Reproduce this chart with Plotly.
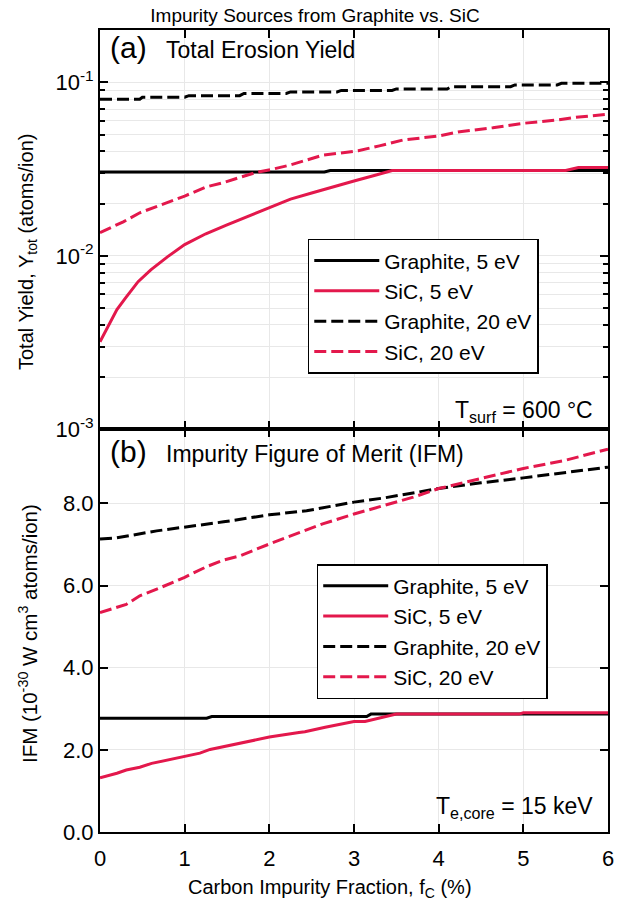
import plotly.graph_objects as go
from plotly.subplots import make_subplots

# ---------------- data ----------------
# (a) total erosion yield (atoms/ion)
graphite5_yield_x = [0, 2.65, 2.72, 6]
graphite5_yield_y = [0.0304, 0.0304, 0.0310, 0.0310]

sic5_yield_x = [0, 0.1, 0.2, 0.3, 0.45, 0.6, 0.8, 1.0, 1.25, 1.5, 1.75, 2.0, 2.25,
                2.5, 2.75, 3.0, 3.25, 3.45, 5.5, 5.65, 6]
sic5_yield_y = [0.0032, 0.0040, 0.0049, 0.0057, 0.0071, 0.0083, 0.0099, 0.0116, 0.0134,
                0.0151, 0.0169, 0.0190, 0.0212, 0.0230, 0.0250, 0.0270, 0.0291, 0.0310,
                0.0310, 0.0323, 0.0323]

graphite20_yield_x = [0, 0.47, 0.5, 1.0, 1.05, 1.65, 1.7, 2.2, 2.25, 2.8, 2.85, 3.45,
                      3.5, 4.1, 4.15, 4.85, 4.9, 5.4, 5.45, 6]
graphite20_yield_y = [0.0798, 0.0798, 0.0820, 0.0820, 0.0837, 0.0837, 0.0862, 0.0862,
                      0.0880, 0.0880, 0.0897, 0.0897, 0.0915, 0.0915, 0.0943, 0.0943,
                      0.0965, 0.0965, 0.0987, 0.0987]

sic20_yield_x = [0, 0.275, 0.47, 0.67, 1.0, 1.26, 1.46, 1.65, 1.85, 2.03, 2.24, 2.63,
                 3.05, 3.3, 3.58, 4.0, 4.25, 4.64, 5.0, 5.42, 5.58, 6]
sic20_yield_y = [0.0136, 0.0157, 0.0177, 0.0192, 0.0221, 0.0250, 0.0264, 0.0283, 0.0303,
                 0.0315, 0.0333, 0.0380, 0.0403, 0.0430, 0.0465, 0.0490, 0.0519, 0.0547,
                 0.0580, 0.0607, 0.0625, 0.0655]

# (b) impurity figure of merit (1e-30 W cm^3 atoms/ion)
graphite5_ifm_x = [0, 1.26, 1.32, 3.15, 3.2, 6]
graphite5_ifm_y = [2.77, 2.77, 2.81, 2.81, 2.87, 2.87]

sic5_ifm_x = [0, 0.2, 0.31, 0.47, 0.61, 0.83, 1.0, 1.18, 1.3, 1.65, 2.0, 2.35, 2.42,
              2.66, 3.0, 3.13, 3.44, 3.5, 4.95, 5.0, 6]
sic5_ifm_y = [1.32, 1.43, 1.51, 1.575, 1.67, 1.77, 1.83, 1.92, 2.01, 2.16, 2.31, 2.42,
              2.44, 2.55, 2.69, 2.69, 2.85, 2.87, 2.87, 2.90, 2.90]

graphite20_ifm_x = [0, 0.2, 0.67, 1.0, 1.46, 2.0, 2.44, 3.0, 3.35, 4.0, 4.5, 5.0, 5.5, 6]
graphite20_ifm_y = [7.13, 7.16, 7.33, 7.42, 7.55, 7.72, 7.82, 8.03, 8.13, 8.36, 8.50,
                    8.62, 8.75, 8.88]

sic20_ifm_x = [0, 0.2, 0.31, 0.47, 0.67, 1.0, 1.26, 1.46, 1.65, 2.0, 2.32, 2.63, 3.0,
               3.35, 3.7, 4.0, 4.5, 5.0, 5.5, 6]
sic20_ifm_y = [5.34, 5.46, 5.54, 5.75, 5.91, 6.20, 6.46, 6.62, 6.72, 7.01, 7.25, 7.50,
               7.74, 7.95, 8.15, 8.36, 8.60, 8.85, 9.05, 9.32]

series_names = ["Graphite, 5 eV", "SiC, 5 eV", "Graphite, 20 eV", "SiC, 20 eV"]

x_ticks = [0, 1, 2, 3, 4, 5, 6]
log_tickvals = [1e-3, 1e-2, 1e-1]
log_ticktext = ["10<sup>-3</sup>", "10<sup>-2</sup>", "10<sup>-1</sup>"]
ifm_tickvals = [0, 2, 4, 6, 8]
ifm_ticktext = ["0.0", "2.0", "4.0", "6.0", "8.0"]

# ---------------- style ----------------
FONT = "Liberation Sans, Arial, sans-serif"
BLACK = "#000000"
RED = "#E3184C"
GRID = "#e8e8e8"
DASH = "12px,5px"
LW = 3

styles = [
    dict(color=BLACK, width=LW, dash="solid"),
    dict(color=RED, width=LW, dash="solid"),
    dict(color=BLACK, width=LW, dash=DASH),
    dict(color=RED, width=LW, dash=DASH),
]

fig = make_subplots(rows=2, cols=1, shared_xaxes=True, vertical_spacing=0,
                    row_heights=[0.498, 0.502])

top = [(graphite5_yield_x, graphite5_yield_y), (sic5_yield_x, sic5_yield_y),
       (graphite20_yield_x, graphite20_yield_y), (sic20_yield_x, sic20_yield_y)]
bot = [(graphite5_ifm_x, graphite5_ifm_y), (sic5_ifm_x, sic5_ifm_y),
       (graphite20_ifm_x, graphite20_ifm_y), (sic20_ifm_x, sic20_ifm_y)]

for (xs, ys), name, st in zip(top, series_names, styles):
    fig.add_trace(go.Scatter(x=xs, y=ys, mode="lines", name=name, line=st,
                             legend="legend"), row=1, col=1)
for (xs, ys), name, st in zip(bot, series_names, styles):
    fig.add_trace(go.Scatter(x=xs, y=ys, mode="lines", name=name, line=st,
                             legend="legend2"), row=2, col=1)

# minor log ticks
minor_vals = []
for dec in [1e-3, 1e-2, 1e-1]:
    for m in range(2, 10):
        v = m * dec
        if v <= 0.2:
            minor_vals.append(v)

axis_common = dict(showline=True, linewidth=2, linecolor=BLACK, mirror="allticks",
                   ticks="inside", ticklen=8, tickwidth=1.5, tickcolor=BLACK,
                   showgrid=True, gridcolor=GRID, gridwidth=1, zeroline=False,
                   tickfont=dict(family=FONT, size=22, color=BLACK))

fig.update_xaxes(**axis_common, range=[0, 6], tickvals=x_ticks, ticklabelstandoff=6)
fig.update_xaxes(showticklabels=False, row=1, col=1)

fig.update_yaxes(**axis_common, row=1, col=1)
fig.update_yaxes(type="log", range=[-3, -0.69897], tickvals=log_tickvals,
                 ticktext=log_ticktext,
                 minor=dict(tickvals=minor_vals, ticks="inside", ticklen=5,
                            tickcolor=BLACK, showgrid=True, gridcolor=GRID),
                 row=1, col=1)
fig.update_yaxes(**axis_common, row=2, col=1)
fig.update_yaxes(range=[0, 9.8], tickvals=ifm_tickvals, ticktext=ifm_ticktext,
                 row=2, col=1)

legend_style = dict(font=dict(family=FONT, size=21, color=BLACK), bgcolor="white",
                    bordercolor=BLACK, borderwidth=1.5, xanchor="left", yanchor="top",
                    itemwidth=65, tracegroupgap=0)

fig.update_layout(
    width=630, height=908,
    margin=dict(l=100, r=22, t=30, b=76),
    plot_bgcolor="white", paper_bgcolor="white",
    font=dict(family=FONT, color=BLACK),
    title=dict(text="Impurity Sources from Graphite vs. SiC", x=0.5, xref="container",
               y=1 - 15 / 908, yref="container", yanchor="middle", xanchor="center",
               font=dict(family=FONT, size=19, color=BLACK)),
    legend=dict(x=0.409, y=0.7395, **legend_style),
    legend2=dict(x=0.4266, y=0.334, **legend_style),
)

ann = [
    dict(text="(a)", xref="x domain", yref="y domain", x=0.015, y=0.955, size=30),
    dict(text="Total Erosion Yield", xref="x domain", yref="y domain", x=0.125, y=0.95, size=23),
    dict(text="(b)", xref="x2 domain", yref="y2 domain", x=0.015, y=0.945, size=30),
    dict(text="Impurity Figure of Merit (IFM)", xref="x2 domain", yref="y2 domain",
         x=0.125, y=0.94, size=23),
]
for a in ann:
    fig.add_annotation(text=a["text"], xref=a["xref"], yref=a["yref"], x=a["x"], y=a["y"],
                       xanchor="left", yanchor="middle", showarrow=False,
                       font=dict(family=FONT, size=a["size"], color=BLACK))

fig.add_annotation(text="T<sub>surf</sub> = 600 °C", xref="x domain", yref="y domain",
                   x=0.975, y=0.045, xanchor="right", yanchor="middle", showarrow=False,
                   font=dict(family=FONT, size=23, color=BLACK))
fig.add_annotation(text="T<sub>e,core</sub> = 15 keV", xref="x2 domain", yref="y2 domain",
                   x=0.975, y=0.06, xanchor="right", yanchor="middle", showarrow=False,
                   font=dict(family=FONT, size=23, color=BLACK))

# axis titles placed as annotations (positions)
fig.add_annotation(text="Carbon Impurity Fraction, f<sub>C</sub> (%)", xref="paper",
                   yref="paper", x=(330 - 100) / 508, y=-(888 - 832) / 802,
                   xanchor="center", yanchor="middle", showarrow=False,
                   font=dict(family=FONT, size=20, color=BLACK))
fig.add_annotation(text="Total Yield, Y<sub>tot</sub> (atoms/ion)", xref="paper",
                   yref="paper", x=-(100 - 28) / 508, y=(832 - 252) / 802,
                   xanchor="center", yanchor="middle", textangle=-90, showarrow=False,
                   font=dict(family=FONT, size=20, color=BLACK))
fig.add_annotation(text="IFM (10<sup>-30</sup> W cm<sup>3</sup> atoms/ion)", xref="paper",
                   yref="paper", x=-(100 - 28) / 508, y=(832 - 634) / 802,
                   xanchor="center", yanchor="middle", textangle=-90, showarrow=False,
                   font=dict(family=FONT, size=20.5, color=BLACK))

fig.write_html("out.html")
